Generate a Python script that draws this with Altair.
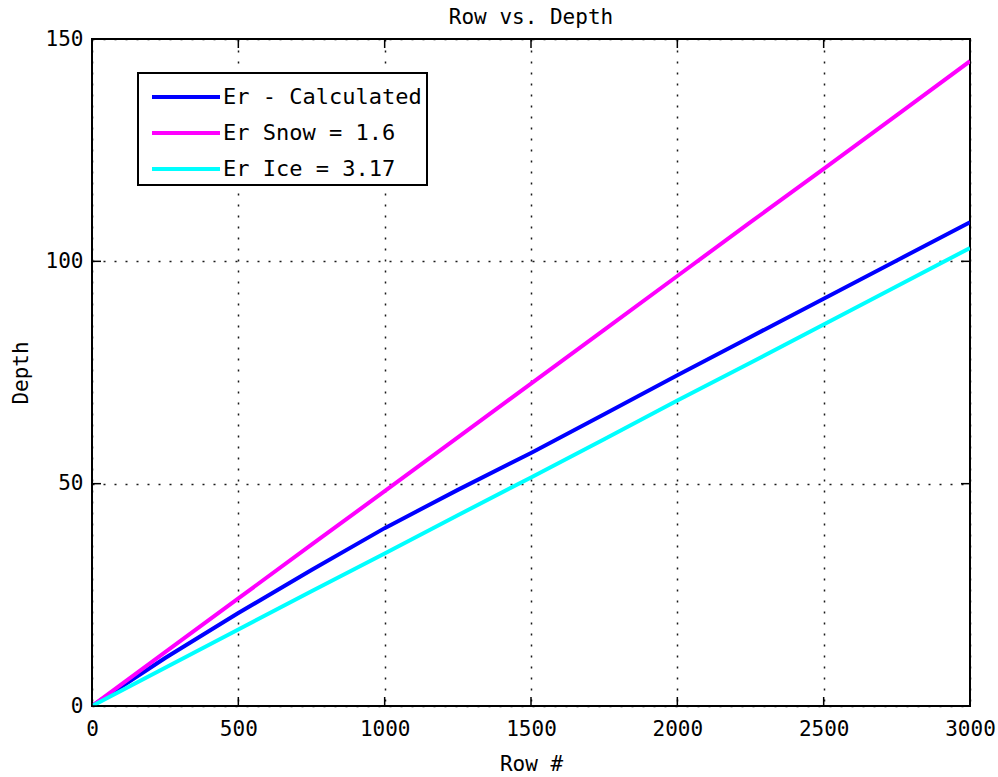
import altair as alt
import pandas as pd

# Row numbers and the depth traces for each permittivity assumption
rows = [0, 250, 500, 750, 1000, 1250, 1500, 1750, 2000, 2250, 2500, 2750, 3000]
depth_calc = [0, 10.8, 20.9, 30.6, 40.0, 48.6, 56.9, 65.6, 74.4, 83.0, 91.6, 100.2, 108.8]
depth_snow = [0, 12.1, 24.2, 36.3, 48.3, 60.4, 72.5, 84.6, 96.7, 108.8, 120.8, 132.9, 145.0]
depth_ice = [0, 8.6, 17.2, 25.8, 34.3, 42.9, 51.4, 60.0, 68.7, 77.2, 85.8, 94.4, 103.0]

series_names = ["Er - Calculated", "Er Snow = 1.6", "Er Ice = 3.17"]
series_colors = ["#0000ff", "#ff00ff", "#00ffff"]

x_ticks = [0, 500, 1000, 1500, 2000, 2500, 3000]
y_ticks = [0, 50, 100, 150]

FONT = "DejaVu Sans Mono"
W, H = 878, 667
TICK = 9

frames = []
for name, vals in zip(series_names, [depth_calc, depth_snow, depth_ice]):
    frames.append(pd.DataFrame({"row": rows, "depth": vals, "series": name}))
df = pd.concat(frames, ignore_index=True)

x_scale = alt.Scale(domain=[0, 3000], nice=False, zero=False)
y_scale = alt.Scale(domain=[0, 150], nice=False, zero=False)

lines = alt.Chart(df).mark_line(strokeWidth=4, clip=True).encode(
    x=alt.X("row:Q", scale=x_scale,
            axis=alt.Axis(title="Row #", values=x_ticks, format="d")),
    y=alt.Y("depth:Q", scale=y_scale,
            axis=alt.Axis(title="Depth", values=y_ticks, format="d")),
    color=alt.Color(
        "series:N",
        scale=alt.Scale(domain=series_names, range=series_colors),
        legend=alt.Legend(
            title=None, orient="none", legendX=46, legendY=34,
            # long horizontal swatch, wider than the row height
            symbolType="M-2,0L2,0", symbolSize=1156, symbolStrokeWidth=4,
            symbolOffset=24,
            labelFont=FONT, labelFontSize=22, labelColor="black",
            labelLimit=0, labelOffset=18,
            fillColor="white", strokeColor="black",
            padding=5, rowPadding=6,
        ),
    ),
    order=alt.Order("series:N"),
)

# Inward tick marks on all four sides of the frame
xt = pd.DataFrame({"v": x_ticks})
yt = pd.DataFrame({"v": y_ticks})
tick_x_bottom = alt.Chart(xt).mark_rule(color="black", strokeWidth=1.5).encode(
    x=alt.X("v:Q", scale=x_scale), y=alt.value(H), y2=alt.value(H - TICK))
tick_x_top = alt.Chart(xt).mark_rule(color="black", strokeWidth=1.5).encode(
    x=alt.X("v:Q", scale=x_scale), y=alt.value(0), y2=alt.value(TICK))
tick_y_left = alt.Chart(yt).mark_rule(color="black", strokeWidth=1.5).encode(
    y=alt.Y("v:Q", scale=y_scale), x=alt.value(0), x2=alt.value(TICK))
tick_y_right = alt.Chart(yt).mark_rule(color="black", strokeWidth=1.5).encode(
    y=alt.Y("v:Q", scale=y_scale), x=alt.value(W), x2=alt.value(W - TICK))

chart = alt.layer(lines, tick_x_bottom, tick_x_top, tick_y_left, tick_y_right).properties(
    width=W, height=H,
    title=alt.Title("Row vs. Depth", font=FONT, fontSize=21, fontWeight="normal",
                    color="black", offset=0),
    autosize=alt.AutoSizeParams(type="none"),
    padding={"left": 92, "top": 39, "right": 28, "bottom": 71},
).configure_view(
    stroke="black", strokeWidth=2,
).configure_axis(
    domain=False, ticks=False, labelFlush=False, labelOverlap=False,
    grid=True, gridColor="black", gridDash=[2, 9], gridWidth=1.5, gridOpacity=0.9,
    labelFont=FONT, labelFontSize=21, labelColor="black",
    titleFont=FONT, titleFontSize=21, titleFontWeight="normal", titleColor="black",
).configure_axisX(
    labelPadding=12, titlePadding=14,
).configure_axisY(
    labelPadding=9, titlePadding=14,
).configure_legend(
    strokeWidth=2,
)

chart.save("out.html", embed_options={"renderer": "svg", "actions": False})
